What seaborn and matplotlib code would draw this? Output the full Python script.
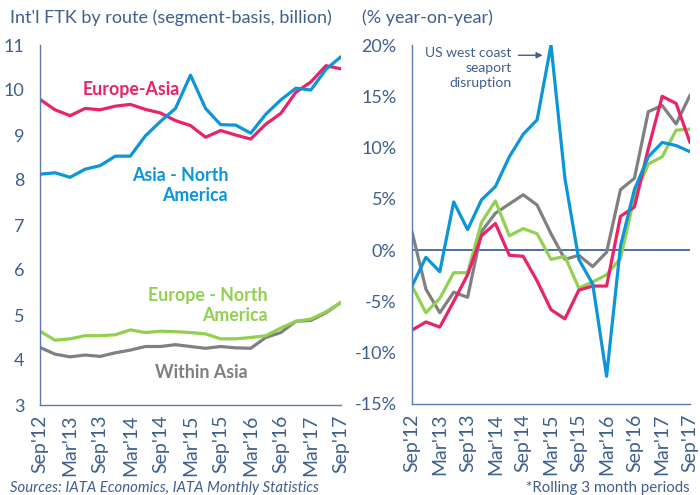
import matplotlib
matplotlib.use("Agg")
import matplotlib.pyplot as plt
import seaborn as sns
import pandas as pd

# quarterly periods (rolling 3 months)
periods = ["Sep'12", "Dec'12", "Mar'13", "Jun'13", "Sep'13", "Dec'13", "Mar'14",
           "Jun'14", "Sep'14", "Dec'14", "Mar'15", "Jun'15", "Sep'15", "Dec'15",
           "Mar'16", "Jun'16", "Sep'16", "Dec'16", "Mar'17", "Jun'17", "Sep'17"]

# FTK levels, billion
eu_asia = [9.79, 9.56, 9.43, 9.59, 9.56, 9.64, 9.68, 9.57, 9.49, 9.32, 9.21,
           8.95, 9.10, 9.00, 8.91, 9.24, 9.48, 9.95, 10.18, 10.54, 10.47]
asia_na = [8.13, 8.16, 8.06, 8.24, 8.32, 8.53, 8.53, 8.98, 9.30, 9.59, 10.33,
           9.59, 9.23, 9.22, 9.04, 9.46, 9.78, 10.04, 10.00, 10.46, 10.74]
eu_na = [4.64, 4.44, 4.47, 4.54, 4.54, 4.56, 4.67, 4.61, 4.64, 4.63, 4.61,
         4.58, 4.47, 4.47, 4.50, 4.54, 4.71, 4.86, 4.91, 5.07, 5.28]
within_asia = [4.28, 4.13, 4.07, 4.11, 4.08, 4.16, 4.22, 4.30, 4.30, 4.34, 4.30,
               4.26, 4.30, 4.27, 4.26, 4.50, 4.61, 4.86, 4.88, 5.05, 5.28]

# growth, % year-on-year
eu_asia_g = [-7.8, -7.0, -7.5, -5.0, -2.4, 1.4, 2.6, -0.5, -0.6, -3.0, -5.8,
             -6.7, -3.9, -3.5, -3.5, 3.3, 4.2, 9.9, 15.0, 14.3, 10.5]
asia_na_g = [-3.5, -0.7, -2.1, 4.7, 2.0, 4.9, 6.2, 9.1, 11.3, 12.7, 20.0,
             7.0, -0.9, -3.3, -12.3, 0.4, 5.9, 9.1, 10.5, 10.2, 9.6]
eu_na_g = [-3.5, -6.1, -4.7, -2.2, -2.2, 2.7, 4.8, 1.4, 2.1, 1.6, -0.9,
           -0.6, -3.7, -3.1, -2.4, -0.8, 5.2, 8.4, 9.1, 11.7, 11.8]
within_asia_g = [1.8, -3.8, -6.1, -4.1, -4.6, 1.8, 3.6, 4.5, 5.4, 4.4, 1.6,
                 -0.9, -0.5, -1.6, -0.2, 5.9, 7.0, 13.5, 14.1, 12.3, 15.1]

routes = ["Within Asia", "Europe - North America", "Europe-Asia", "Asia - North America"]
colors = {"Europe-Asia": "#E9226A", "Asia - North America": "#0A96D8",
          "Europe - North America": "#92D050", "Within Asia": "#808080"}

lvl = {"Europe-Asia": eu_asia, "Asia - North America": asia_na,
       "Europe - North America": eu_na, "Within Asia": within_asia}
grw = {"Europe-Asia": eu_asia_g, "Asia - North America": asia_na_g,
       "Europe - North America": eu_na_g, "Within Asia": within_asia_g}

rows = []
for r in routes:
    for i, p in enumerate(periods):
        rows.append({"route": r, "q": i, "level": lvl[r][i], "growth": grw[r][i]})
df = pd.DataFrame(rows)

sns.set_style("white")
plt.rcParams["font.family"] = ["Lato", "DejaVu Sans"]

txt = "#3E5F8E"
spine = "#5B7BAE"

fig = plt.figure(figsize=(7, 4.95), dpi=100)
ax1 = fig.add_axes([40 / 700, 1 - 405 / 495, 301 / 700, 360 / 495])
ax2 = fig.add_axes([412 / 700, 1 - 404 / 495, 278 / 700, 359 / 495])

sns.lineplot(data=df, x="q", y="level", hue="route", hue_order=routes,
             palette=colors, linewidth=2.3, legend=False, ax=ax1)
sns.lineplot(data=df, x="q", y="growth", hue="route", hue_order=routes,
             palette=colors, linewidth=2.3, legend=False, ax=ax2)

xlabels = [p if i % 2 == 0 else "" for i, p in enumerate(periods)]
for ax in (ax1, ax2):
    ax.set_xlim(0, len(periods) - 1)
    ax.set_xticks(range(len(periods)))
    ax.set_xticklabels(xlabels, rotation=90, fontsize=14, color=txt)
    ax.set_xlabel("")
    ax.set_ylabel("")
    for s in ("top", "right"):
        ax.spines[s].set_visible(False)
    for s in ("left", "bottom"):
        ax.spines[s].set_color(spine)
        ax.spines[s].set_linewidth(1.0)
    ax.tick_params(axis="both", which="major", direction="out", length=5,
                   width=1.0, color=spine, labelcolor=txt)
    ax.tick_params(axis="y", labelsize=13, pad=6)
    ax.tick_params(axis="x", pad=2)
    ax.set_facecolor("white")

ax1.set_ylim(3, 11)
ax1.set_yticks(range(3, 12))

ax2.set_ylim(-15, 20)
ax2.set_yticks(range(-15, 21, 5))
ax2.set_yticklabels([f"{v}%" for v in range(-15, 21, 5)])
ax2.axhline(0, color="#2F5597", linewidth=1.2, zorder=1)

# series labels
lab = dict(fontsize=12.8, fontweight="bold", va="center")
ax1.text(6.05, 10.0, "Europe-Asia", color=colors["Europe-Asia"], ha="center", **lab)
ax1.text(12.5, 7.87, "Asia - North\nAmerica", color=colors["Asia - North America"],
         ha="right", multialignment="right", linespacing=1.2, **lab)
ax1.text(15.15, 5.22, "Europe - North\nAmerica", color=colors["Europe - North America"],
         ha="right", multialignment="right", linespacing=1.2, **lab)
ax1.text(10.7, 3.73, "Within Asia", color="#7F7F7F", ha="center", **lab)

# annotation
ax2.text(7.15, 19.8, "US west coast\nseaport\ndisruption", color=txt, fontsize=10,
         ha="right", va="top", multialignment="right", linespacing=1.3)
ax2.annotate("", xy=(9.6, 19.0), xytext=(7.45, 19.0),
             arrowprops=dict(arrowstyle="-|>", color=txt, lw=1.0, mutation_scale=9))

fig.text(10 / 700, 1 - 18 / 495, "Int'l FTK by route (segment-basis, billion)",
         color=txt, fontsize=13, ha="left", va="center")
fig.text(362 / 700, 1 - 18 / 495, "(% year-on-year)", color=txt, fontsize=13,
         ha="left", va="center")
fig.text(10 / 700, 1 - 488 / 495, "Sources: IATA Economics, IATA Monthly Statistics",
         color=txt, fontsize=10.7, style="italic", ha="left", va="center")
fig.text(690 / 700, 1 - 488 / 495, "*Rolling 3 month periods", color=txt,
         fontsize=10.8, ha="right", va="center")

fig.savefig("out.png", dpi=100, facecolor="white")
